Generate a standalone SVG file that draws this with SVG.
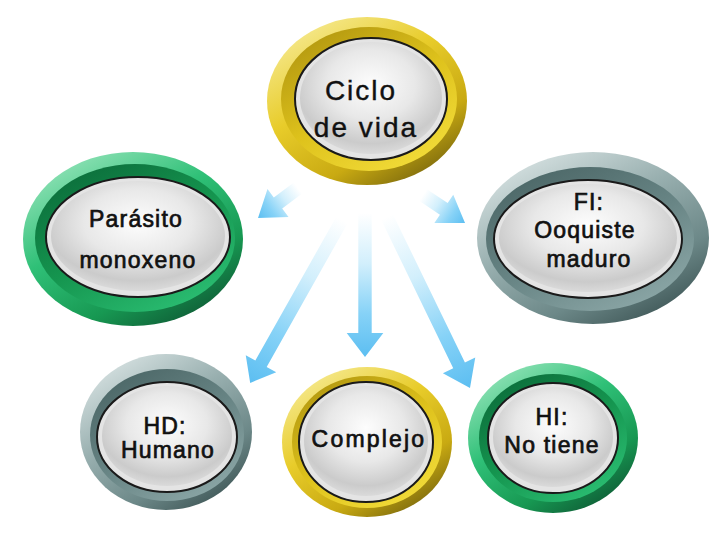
<svg xmlns="http://www.w3.org/2000/svg" width="720" height="540" viewBox="0 0 720 540">
<defs>
  <linearGradient id="goldO" x1="0.15" y1="0" x2="0.85" y2="1">
    <stop offset="0" stop-color="#F7EC9A"/>
    <stop offset="0.4" stop-color="#E8CC2A"/>
    <stop offset="0.72" stop-color="#C9AA12"/>
    <stop offset="1" stop-color="#6C5C0C"/>
  </linearGradient>
  <linearGradient id="goldI" x1="0.15" y1="0" x2="0.85" y2="1">
    <stop offset="0" stop-color="#B0950F"/>
    <stop offset="0.5" stop-color="#DEC21C"/>
    <stop offset="1" stop-color="#F4DE3C"/>
  </linearGradient>
  <linearGradient id="greenO" x1="0.15" y1="0" x2="0.85" y2="1">
    <stop offset="0" stop-color="#9BE6BE"/>
    <stop offset="0.4" stop-color="#2FC077"/>
    <stop offset="0.72" stop-color="#179852"/>
    <stop offset="1" stop-color="#0D5030"/>
  </linearGradient>
  <linearGradient id="greenI" x1="0.15" y1="0" x2="0.85" y2="1">
    <stop offset="0" stop-color="#0B6B3A"/>
    <stop offset="0.5" stop-color="#15954F"/>
    <stop offset="1" stop-color="#2DC276"/>
  </linearGradient>
  <linearGradient id="grayO" x1="0.15" y1="0" x2="0.85" y2="1">
    <stop offset="0" stop-color="#DCE6E6"/>
    <stop offset="0.4" stop-color="#98AFAF"/>
    <stop offset="0.72" stop-color="#6C8888"/>
    <stop offset="1" stop-color="#364D4D"/>
  </linearGradient>
  <linearGradient id="grayI" x1="0.15" y1="0" x2="0.85" y2="1">
    <stop offset="0" stop-color="#4A6565"/>
    <stop offset="0.5" stop-color="#678484"/>
    <stop offset="1" stop-color="#8FAAAA"/>
  </linearGradient>
  <radialGradient id="face" cx="0.5" cy="0.38" r="0.62">
    <stop offset="0" stop-color="#FDFDFD"/>
    <stop offset="0.5" stop-color="#E8E8E8"/>
    <stop offset="0.85" stop-color="#CBCBCB"/>
    <stop offset="1" stop-color="#DADADA"/>
  </radialGradient>
  <linearGradient id="arrowG" x1="0" y1="0" x2="1" y2="0">
    <stop offset="0" stop-color="#FFFFFF"/>
    <stop offset="0.35" stop-color="#D2EFFC"/>
    <stop offset="0.7" stop-color="#86D2F7"/>
    <stop offset="1" stop-color="#5CBEF1"/>
  </linearGradient>
  <style>
    .gold-o{fill:url(#goldO)}
    .gold-i{fill:url(#goldI)}
    .green-o{fill:url(#greenO)}
    .green-i{fill:url(#greenI)}
    .gray-o{fill:url(#grayO)}
    .gray-i{fill:url(#grayI)}
    .rim{fill:#E4E4E4;stroke:#1A1A1A;stroke-width:2}
    .face{fill:url(#face)}
    .arrow{fill:url(#arrowG)}
    text{font-family:"Liberation Sans",Arial,sans-serif;fill:#111111;text-anchor:middle}
    .big{font-size:28px;letter-spacing:2px;stroke:#111111;stroke-width:0.4px}
    .lbl{font-size:23px;letter-spacing:1.2px;stroke:#111111;stroke-width:0.7px}
  </style>
</defs>
<rect width="720" height="540" fill="#FFFFFF"/>

<g id="connectors">
  <polygon class="arrow" transform="translate(298,188) rotate(143.1)" points="0,-7 25,-7 25,-17.5 50,0 25,17.5 25,7 0,7"/>
  <polygon class="arrow" transform="translate(423,195) rotate(33.7)" points="0,-7 25,-7 25,-17 50.5,0 25,17 25,7 0,7"/>
  <polygon class="arrow" transform="translate(342,220) rotate(119.4)" points="0,-6.5 165,-6.5 165,-17.5 187,0 165,17.5 165,6.5 0,6.5"/>
  <polygon class="arrow" transform="translate(365,213) rotate(90)" points="0,-6.7 120,-6.7 120,-18.3 144,0 120,18.3 120,6.7 0,6.7"/>
  <polygon class="arrow" transform="translate(387,217) rotate(64.1)" points="0,-6.5 165,-6.5 165,-18 190,0 165,18 165,6.5 0,6.5"/>
</g>

<g id="n-ciclo">
  <ellipse class="gold-o" cx="367" cy="101" rx="100" ry="84"/>
  <ellipse class="gold-i" cx="369" cy="99" rx="88" ry="72"/>
  <ellipse class="rim" cx="371" cy="99" rx="76" ry="61"/>
  <ellipse class="face" cx="371" cy="98" rx="71" ry="56"/>
  <text class="big" x="361" y="100">Ciclo</text>
  <text class="big" x="366" y="137">de vida</text>
</g>

<g id="n-parasito">
  <ellipse class="green-o" cx="133" cy="239" rx="110" ry="87"/>
  <ellipse class="green-i" cx="135" cy="238" rx="100" ry="74"/>
  <ellipse class="rim" cx="138" cy="237" rx="92" ry="60"/>
  <ellipse class="face" cx="138" cy="236" rx="87" ry="55"/>
  <text class="lbl" x="136" y="227">Parásito</text>
  <text class="lbl" x="138" y="268">monoxeno</text>
</g>

<g id="n-fi">
  <ellipse class="gray-o" cx="593" cy="238" rx="116" ry="86"/>
  <ellipse class="gray-i" cx="590" cy="239" rx="104" ry="72"/>
  <ellipse class="rim" cx="588" cy="239" rx="94" ry="59"/>
  <ellipse class="face" cx="588" cy="238" rx="89" ry="54"/>
  <text class="lbl" x="589" y="210">FI:</text>
  <text class="lbl" x="585" y="238">Ooquiste</text>
  <text class="lbl" x="589" y="267">maduro</text>
</g>

<g id="n-hd">
  <ellipse class="gray-o" cx="166" cy="432" rx="86" ry="78"/>
  <ellipse class="gray-i" cx="167" cy="435" rx="77" ry="66"/>
  <ellipse class="rim" cx="167" cy="437" rx="70" ry="55"/>
  <ellipse class="face" cx="167" cy="436" rx="65" ry="50"/>
  <text class="lbl" x="165" y="434">HD:</text>
  <text class="lbl" x="168" y="458">Humano</text>
</g>

<g id="n-complejo">
  <ellipse class="gold-o" cx="367" cy="442" rx="85" ry="75"/>
  <ellipse class="gold-i" cx="367" cy="442" rx="75" ry="66"/>
  <ellipse class="rim" cx="366" cy="442" rx="67" ry="60"/>
  <ellipse class="face" cx="366" cy="441" rx="62" ry="55"/>
  <text class="lbl" x="369" y="447" style="letter-spacing:2.2px">Complejo</text>
</g>

<g id="n-hi">
  <ellipse class="green-o" cx="553" cy="438" rx="85" ry="75"/>
  <ellipse class="green-i" cx="553" cy="438" rx="74" ry="64"/>
  <ellipse class="rim" cx="553" cy="438" rx="65" ry="55"/>
  <ellipse class="face" cx="553" cy="437" rx="60" ry="50"/>
  <text class="lbl" x="552" y="425">HI:</text>
  <text class="lbl" x="552" y="453">No tiene</text>
</g>
</svg>
